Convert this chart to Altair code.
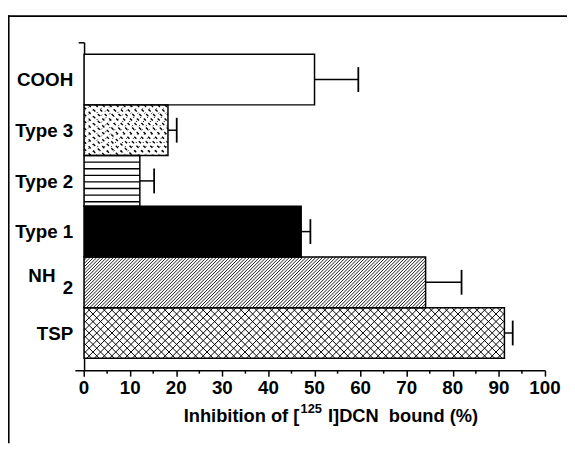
import altair as alt
import pandas as pd

# ---- data ----
names = ["COOH", "Type 3", "Type 2", "Type 1", "NH2", "TSP"]
labels = ["COOH", "Type 3", "Type 2", "Type 1", "NH", "TSP"]
subscripts = ["", "", "", "", "2", ""]
values = [50.0, 18.2, 12.1, 47.1, 74.1, 91.2]
errors = [9.5, 1.9, 3.1, 2.0, 7.8, 1.8]
x_ticks = list(range(0, 101, 10))
x_minor = list(range(5, 100, 10))
title_parts = ["Inhibition of [", "125", "I]DCN\u00a0\u00a0bound (%)"]

# ---- layout ----
W, H = 476, 332
XMIN, XMAX = -2, 100
YMIN, YMAX = -0.734, 5.734
PX_X = W / (XMAX - XMIN)
PX_Y = H / (YMAX - YMIN)
R = PX_Y / PX_X  # x-units covered by a 45 degree line across one bar
FONT = "Liberation Sans"
fills = ["white", "white", "white", "black", "white", "white"]

df = pd.DataFrame({
    "name": names, "label": labels, "sub": subscripts,
    "value": values, "err": errors,
    "pos": list(range(len(names) - 1, -1, -1)),
})

xs = alt.Scale(domain=[XMIN, XMAX], nice=False, zero=False)
ys = alt.Scale(domain=[YMIN, YMAX], nice=False, zero=False)

AX_X = alt.Axis(
    values=x_ticks, tickSize=6, tickWidth=1.5, tickColor="black",
    domainColor="black", domainWidth=1.5, labels=False,
    grid=False, title=None)
AX_Y = alt.Axis(
    values=[YMAX], labels=False, tickSize=6, tickWidth=1.5,
    tickColor="black", domainColor="black", domainWidth=1.5,
    offset=-(0 - XMIN) * PX_X, grid=False, title=None)


def X(f):
    return alt.X(f, scale=xs, axis=AX_X)


def Y(f):
    return alt.Y(f, scale=ys, axis=AX_Y)


base = alt.Chart(df).transform_calculate(
    x0="0", y0="datum.pos - 0.5", y1="datum.pos + 0.5",
    hi="datum.value + datum.err",
    c0="datum.pos - 0.245", c1="datum.pos + 0.245",
)

bars = base.mark_rect(strokeWidth=0).encode(
    x=X("x0:Q"), x2="value:Q", y=Y("y0:Q"), y2="y1:Q",
    color=alt.Color("name:N", scale=alt.Scale(domain=names, range=fills), legend=None),
)


def diag(name, step, direction, **mark):
    t = base.transform_filter(alt.datum.name == name).transform_calculate(
        cs=f"sequence({-R}, datum.value, {step})"
    ).transform_flatten(["cs"]).transform_calculate(
        xs="max(datum.cs, 0)", xe=f"min(datum.cs + {R}, datum.value)"
    ).transform_filter("datum.xe > datum.xs")
    if direction > 0:
        t = t.transform_calculate(
            ys=f"datum.pos - 0.5 + (datum.xs - datum.cs) / {R}",
            ye=f"datum.pos - 0.5 + (datum.xe - datum.cs) / {R}")
    else:
        t = t.transform_calculate(
            ys=f"datum.pos + 0.5 - (datum.xs - datum.cs) / {R}",
            ye=f"datum.pos + 0.5 - (datum.xe - datum.cs) / {R}")
    return t.mark_rule(color="black", **mark).encode(
        x=X("xs:Q"), x2="xe:Q", y=Y("ys:Q"), y2="ye:Q")


nh2_hatch = diag("NH2", 0.72, 1, strokeWidth=0.9)
tsp_a = diag("TSP", 1.65, 1, strokeWidth=1.0)
tsp_b = diag("TSP", 1.65, -1, strokeWidth=1.0)
t3_a = diag("Type 3", 1.5, -1, strokeWidth=1.4, strokeDash=[3, 3.5])
t3_b = diag("Type 3", 1.5, 1, strokeWidth=0.9, strokeDash=[1.5, 4.5])

t2_lines = base.transform_filter(alt.datum.name == "Type 2").transform_calculate(
    ks="sequence(1, 8)"
).transform_flatten(["ks"]).transform_calculate(
    yl="datum.pos + 0.5 - datum.ks * 0.13"
).mark_rule(color="black", strokeWidth=1.4).encode(
    x=X("x0:Q"), x2="value:Q", y=Y("yl:Q"))

outline = base.mark_rect(fill="white", fillOpacity=0, stroke="black", strokeWidth=1.5).encode(
    x=X("x0:Q"), x2="value:Q", y=Y("y0:Q"), y2="y1:Q")

err_line = base.mark_rule(color="black", strokeWidth=1.5).encode(
    x=X("value:Q"), x2="hi:Q", y=Y("pos:Q"))
err_cap = base.mark_rule(color="black", strokeWidth=1.8).encode(
    x=X("hi:Q"), y=Y("c0:Q"), y2="c1:Q")

minor = alt.Chart(pd.DataFrame({"m": x_minor})).mark_rule(color="black", strokeWidth=1.5).encode(
    x=X("m:Q"), y=alt.value(H), y2=alt.value(H + 3.5))

tick_labels = alt.Chart(pd.DataFrame({"t": x_ticks})).mark_text(
    align="center", baseline="alphabetic", fontSize=19, fontWeight="bold",
    font=FONT, color="black").encode(
    x=X("t:Q"), y=alt.value(H + 23.7), text="t:Q")

txt = dict(fontSize=19, fontWeight="bold", font=FONT, color="black", baseline="alphabetic")
lab_main = base.transform_filter("datum.sub == ''").mark_text(align="right", dx=-11, dy=6.8, **txt).encode(
    x=X("x0:Q"), y=Y("pos:Q"), text="label:N")
lab_sub_main = base.transform_filter("datum.sub != ''").mark_text(align="right", dx=-29, dy=0, **txt).encode(
    x=X("x0:Q"), y=Y("pos:Q"), text="label:N")
lab_sub = base.transform_filter("datum.sub != ''").mark_text(align="right", dx=-11, dy=11.5, **txt).encode(
    x=X("x0:Q"), y=Y("pos:Q"), text="sub:N")


def title_part(text, x, y, align, size):
    return alt.Chart(pd.DataFrame({"t": [text]})).mark_text(
        align=align, baseline="alphabetic", fontSize=size, fontWeight="bold",
        font=FONT, color="black").encode(
        x=alt.value(x), y=alt.value(y), text="t:N")


titles = [
    title_part(title_parts[0], 227.3, 384.5, "right", 18.5),
    title_part(title_parts[1], 228.5, 375, "left", 13),
    title_part(title_parts[2], 256.3, 384.5, "left", 18.5),
]

one = pd.DataFrame({"a": [0]})
frame_top = alt.Chart(one).mark_rule(color="black", strokeWidth=1.6).encode(
    x=alt.value(-67.7), x2=alt.value(498.3), y=alt.value(-26.5))
frame_left = alt.Chart(one).mark_rule(color="black", strokeWidth=1.6).encode(
    x=alt.value(-66.9), y=alt.value(-27.3), y2=alt.value(406))

chart = alt.layer(
    bars, nh2_hatch, tsp_a, tsp_b, t3_a, t3_b, t2_lines, outline,
    err_line, err_cap, minor, tick_labels, lab_main, lab_sub_main, lab_sub,
    *titles, frame_top, frame_left,
).properties(
    width=W, height=H,
    autosize=alt.AutoSizeParams(type="none"),
    padding={"left": 67.7, "top": 32, "right": 22.3, "bottom": 74},
    background="white",
).configure_view(stroke=None)

chart.save("out.html", embed_options={"renderer": "svg", "actions": False})
